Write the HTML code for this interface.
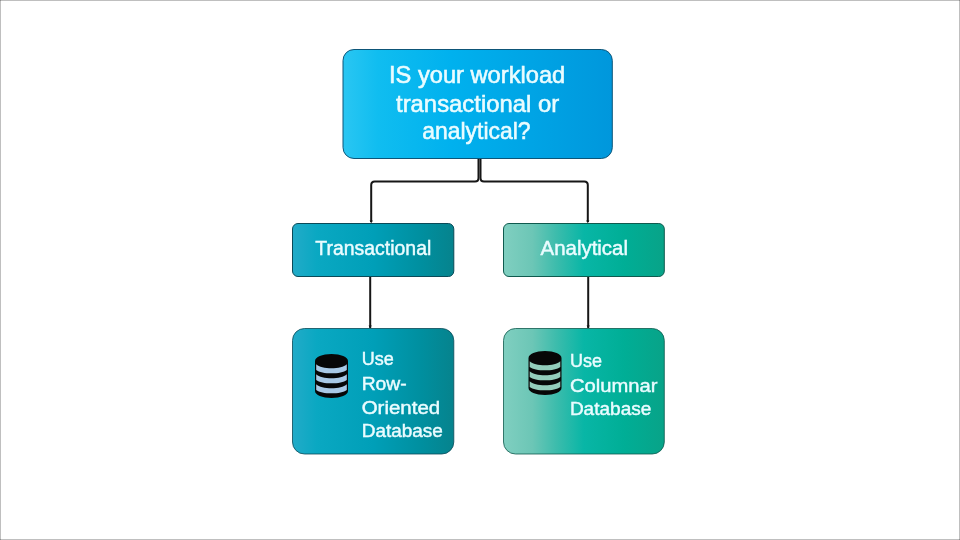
<!DOCTYPE html>
<html lang="en">
<head>
<meta charset="utf-8">
<title>Workload decision tree</title>
<style>
html,body{margin:0;padding:0;background:#fff;}
body{width:960px;height:540px;overflow:hidden;position:relative;font-family:"Liberation Sans",sans-serif;}
svg{position:absolute;left:0;top:0;display:block;will-change:transform;}
text{font-family:"Liberation Sans",sans-serif;fill:#eafcff;stroke:#eafcff;}
.fr{position:absolute;background:rgba(0,0,0,0.25);pointer-events:none;}
.fr.t{left:0;top:0;width:960px;height:1px;}
.fr.b{left:0;top:539px;width:960px;height:1px;}
.fr.l{left:0;top:0;width:1px;height:540px;}
.fr.r{left:959px;top:0;width:1px;height:540px;}
</style>
</head>
<body>
<svg width="960" height="540" viewBox="0 0 960 540">
  <defs>
    <linearGradient id="gTop" x1="0" y1="0" x2="1" y2="0">
      <stop offset="0" stop-color="#2ac6f2"/>
      <stop offset="0.13" stop-color="#10bdf0"/>
      <stop offset="0.4" stop-color="#00b1ee"/>
      <stop offset="1" stop-color="#0097dc"/>
    </linearGradient>
    <linearGradient id="gTeal" x1="0" y1="0" x2="1" y2="0">
      <stop offset="0" stop-color="#22abc8"/>
      <stop offset="0.15" stop-color="#0aa8c2"/>
      <stop offset="0.5" stop-color="#009fb8"/>
      <stop offset="0.8" stop-color="#008f9f"/>
      <stop offset="1" stop-color="#06838d"/>
    </linearGradient>
    <linearGradient id="gGreen" x1="0" y1="0" x2="1" y2="0">
      <stop offset="0" stop-color="#80cfc0"/>
      <stop offset="0.18" stop-color="#6cc6b6"/>
      <stop offset="0.33" stop-color="#3cbcac"/>
      <stop offset="0.5" stop-color="#08b6a6"/>
      <stop offset="0.75" stop-color="#00ae96"/>
      <stop offset="1" stop-color="#08a388"/>
    </linearGradient>
    <g id="db">
      <path d="M0 7 C0 3.1 7.4 0 16.5 0 S33 3.1 33 7 V37 C33 40.9 25.6 44 16.5 44 S0 40.9 0 37 Z" fill="#070707"/>
      <path id="band" d="M1.2 10.3 C4 13 10 14.3 16.5 14.3 S29 13 31.8 10.3 V15.9 C29 18.1 23 19.3 16.5 19.3 S4 18.1 1.2 15.9 Z"/>
      <use href="#band" y="10"/>
      <use href="#band" y="20"/>
    </g>
  </defs>

  <!-- connectors -->
  <g fill="none" stroke="#161616" stroke-width="2" stroke-linejoin="round">
    <path d="M478.5 158 V178 Q478.5 181.5 475 181.5 H374.7 Q371.2 181.5 371.2 185 V222"/>
    <path d="M480.5 158 V178 Q480.5 181.5 484 181.5 H584.3 Q587.8 181.5 587.8 185 V222"/>
    <path d="M370.2 276 V328"/>
    <path d="M588.2 276 V328"/>
  </g>
  <path d="M369.6 220.6 h3.2 l-1.6 2.6z M586.2 220.6 h3.2 l-1.6 2.6z M368.6 325.6 h3.2 l-1.6 2.6z M586.6 325.6 h3.2 l-1.6 2.6z" fill="#161616"/>

  <!-- boxes -->
  <g stroke-width="1">
    <rect x="343" y="49.5" width="269.3" height="109" rx="11" ry="11" fill="url(#gTop)" stroke="#0d5578"/>
    <rect x="292.5" y="223.5" width="161.3" height="53" rx="5.5" ry="5.5" fill="url(#gTeal)" stroke="#0a4a58"/>
    <rect x="503.5" y="223.5" width="160.8" height="53" rx="5.5" ry="5.5" fill="url(#gGreen)" stroke="#0f5a4e"/>
    <rect x="292.5" y="328.5" width="161.3" height="125.5" rx="12" ry="12" fill="url(#gTeal)" stroke="#0a4a58" stroke-opacity="0.8"/>
    <rect x="503.5" y="328.5" width="160.8" height="125.5" rx="12" ry="12" fill="url(#gGreen)" stroke="#0f5a4e" stroke-opacity="0.8"/>
  </g>

  <!-- icons -->
  <use href="#db" x="315" y="354" fill="#a9c9e6"/>
  <use href="#db" x="528.5" y="351" fill="#93cdbb"/>

  <!-- text -->
  <g font-size="23.2" stroke-width="0.55">
    <text x="389" y="82.7" textLength="176.2" lengthAdjust="spacingAndGlyphs">IS your workload</text>
    <text x="396" y="111.7" textLength="163.2" lengthAdjust="spacingAndGlyphs">transactional or</text>
    <text x="422.3" y="139.2" textLength="108.3" lengthAdjust="spacingAndGlyphs">analytical?</text>
  </g>
  <g font-size="19.6" stroke-width="0.45">
    <text x="315.3" y="255.2" textLength="116" lengthAdjust="spacingAndGlyphs">Transactional</text>
    <text x="540.5" y="255" textLength="87.5" lengthAdjust="spacingAndGlyphs">Analytical</text>
  </g>
  <g font-size="18.9" stroke-width="0.45">
    <text x="361.7" y="365.4" textLength="32" lengthAdjust="spacingAndGlyphs">Use</text>
    <text x="361.7" y="389.8" textLength="45" lengthAdjust="spacingAndGlyphs">Row-</text>
    <text x="361.7" y="413.8" textLength="78.5" lengthAdjust="spacingAndGlyphs">Oriented</text>
    <text x="361.7" y="437.4" textLength="81.2" lengthAdjust="spacingAndGlyphs">Database</text>
    <text x="569.9" y="367.4" textLength="32" lengthAdjust="spacingAndGlyphs">Use</text>
    <text x="569.9" y="391.7" textLength="87.6" lengthAdjust="spacingAndGlyphs">Columnar</text>
    <text x="569.9" y="415.4" textLength="81.4" lengthAdjust="spacingAndGlyphs">Database</text>
  </g>
</svg>
<div class="fr t"></div><div class="fr b"></div><div class="fr l"></div><div class="fr r"></div>
</body>
</html>
